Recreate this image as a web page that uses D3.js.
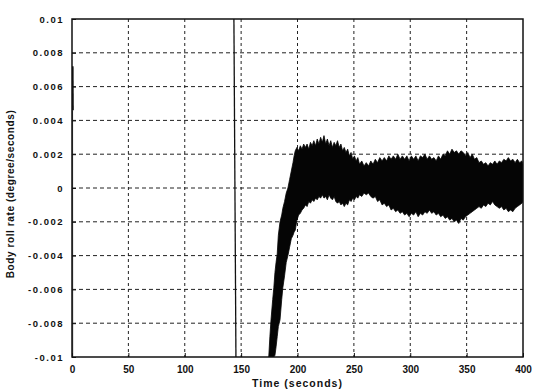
<!DOCTYPE html>
<html>
<head>
<meta charset="utf-8">
<script src="https://cdn.jsdelivr.net/npm/d3@7"></script>
<style>
  html, body { margin: 0; padding: 0; background: #fff; }
  text { font-family: "Liberation Sans", Arial, sans-serif; font-weight: bold; fill: #111; }
</style>
</head>
<body>
<div id="chart"></div>
<script>
// Axis ticks
const xTicks = [0, 50, 100, 150, 200, 250, 300, 350, 400];
const yTicks = [-0.01, -0.008, -0.006, -0.004, -0.002, 0, 0.002, 0.004, 0.006, 0.008, 0.01];
const yTickLabels = ["-0.01", "-0.008", "-0.006", "-0.004", "-0.002", "0", "0.002", "0.004", "0.006", "0.008", "0.01"];

// Envelope of the noisy roll-rate signal
const bandTime = [174.5, 175.5, 176.5, 178, 179, 180, 181, 182, 183, 184.5, 186, 187, 188.5, 190, 191.5, 193, 194.5, 196, 197, 198,
  199.5, 201, 202.5, 204, 205.5, 207, 208.5, 210, 211.5, 213, 214.5, 216, 217.5, 219, 220.5, 222, 223.5, 225, 226.5, 228,
  229.5, 231, 232.5, 234, 235.5, 237, 238.5, 240, 241.5, 243, 244.5, 246, 247.5, 249, 250.5, 252, 253.5, 255, 257, 259,
  261, 263, 265, 267, 269, 271, 273, 275, 277, 279, 281, 283, 285, 287, 289, 291, 293, 295, 297, 299,
  301, 303, 305, 307, 309, 311, 313, 315, 317, 319, 321, 323, 325, 327, 329, 331, 333, 335, 337, 339,
  341, 343, 345, 347, 349, 351, 353, 355, 357, 359, 361, 363, 365, 367, 369, 371, 373, 375, 377, 379,
  381, 383, 385, 387, 389, 391, 393, 395, 397, 399, 400];
const bandUpper = [-0.0100, -0.0088, -0.0078, -0.0066, -0.0059, -0.0050, -0.0044, -0.0039, -0.0028, -0.0020, -0.0016, -0.0012, -0.0008, -0.0003, 0.0000, 0.0005, 0.0010, 0.0015, 0.0019, 0.0022,
  0.0024, 0.0022, 0.0025, 0.0023, 0.0026, 0.0024, 0.0026, 0.0023, 0.0027, 0.0025, 0.0028, 0.0025, 0.0029, 0.0026, 0.0030, 0.0027, 0.0031, 0.0026, 0.0029, 0.0025,
  0.0028, 0.0024, 0.0027, 0.0025, 0.0028, 0.0024, 0.0026, 0.0022, 0.0024, 0.0021, 0.0023, 0.0019, 0.0021, 0.0017, 0.0019, 0.0016, 0.0018, 0.0014, 0.0016, 0.0013,
  0.0015, 0.0013, 0.0016, 0.0014, 0.0017, 0.0015, 0.0018, 0.0016, 0.0018, 0.0016, 0.0019, 0.0017, 0.0019, 0.0017, 0.0020, 0.0017, 0.0019, 0.0017, 0.0019, 0.0016,
  0.0019, 0.0017, 0.0019, 0.0016, 0.0019, 0.0018, 0.0020, 0.0017, 0.0019, 0.0017, 0.0018, 0.0016, 0.0019, 0.0017, 0.0020, 0.0019, 0.0022, 0.0020, 0.0023, 0.0021,
  0.0022, 0.0020, 0.0022, 0.0021, 0.0019, 0.0021, 0.0018, 0.0020, 0.0017, 0.0018, 0.0015, 0.0016, 0.0014, 0.0015, 0.0013, 0.0015, 0.0014, 0.0016, 0.0014, 0.0016,
  0.0015, 0.0017, 0.0016, 0.0018, 0.0016, 0.0017, 0.0015, 0.0017, 0.0015, 0.0016, 0.0014];
const bandLower = [-0.0100, -0.0100, -0.0100, -0.0100, -0.0100, -0.0099, -0.0094, -0.0088, -0.0082, -0.0078, -0.0066, -0.0059, -0.0052, -0.0044, -0.0040, -0.0035, -0.0030, -0.0028, -0.0026, -0.0025,
  -0.0019, -0.0016, -0.0015, -0.0013, -0.0012, -0.0010, -0.0011, -0.0008, -0.0009, -0.0007, -0.0008, -0.0006, -0.0007, -0.0005, -0.0006, -0.0004, -0.0006, -0.0005, -0.0007, -0.0004,
  -0.0006, -0.0007, -0.0005, -0.0008, -0.0009, -0.0008, -0.0010, -0.0009, -0.0011, -0.0009, -0.0010, -0.0007, -0.0008, -0.0006, -0.0007, -0.0005, -0.0006, -0.0004, -0.0005, -0.0003,
  -0.0004, -0.0003, -0.0005, -0.0006, -0.0005, -0.0008, -0.0007, -0.0010, -0.0009, -0.0011, -0.0010, -0.0013, -0.0012, -0.0014, -0.0013, -0.0015, -0.0014, -0.0016, -0.0015, -0.0017,
  -0.0015, -0.0016, -0.0014, -0.0017, -0.0015, -0.0016, -0.0014, -0.0015, -0.0013, -0.0015, -0.0014, -0.0016, -0.0015, -0.0017, -0.0016, -0.0018, -0.0017, -0.0019, -0.0018, -0.0020,
  -0.0019, -0.0021, -0.0018, -0.0019, -0.0017, -0.0016, -0.0015, -0.0014, -0.0013, -0.0012, -0.0011, -0.0012, -0.0010, -0.0011, -0.0009, -0.0010, -0.0008, -0.0010, -0.0011, -0.0012,
  -0.0011, -0.0013, -0.0012, -0.0014, -0.0013, -0.0014, -0.0012, -0.0011, -0.0010, -0.0009, -0.0008];

// Isolated traces: start-up transient at t=0 and the jump near t=145
const startTime = [0.3, 0.5, 0.6];
const startValue = [0.0072, 0.0046, -0.01];
const jumpTime = [143.6, 145.4];
const jumpValue = [0.01, -0.01];

const margin = { top: 19, right: 14, bottom: 32, left: 72 },
    width = 537 - margin.left - margin.right,
    height = 389 - margin.top - margin.bottom;

const svg = d3.select("#chart")
  .append("svg")
    .attr("width", 537)
    .attr("height", 389)
  .append("g")
    .attr("transform", `translate(${margin.left},${margin.top})`);

const x = d3.scaleLinear().domain([0, 400]).range([0, width]);
const y = d3.scaleLinear().domain([-0.01, 0.01]).range([height, 0]);

svg.append("clipPath").attr("id", "plot")
  .append("rect").attr("width", width).attr("height", height);

// Dashed grid
svg.selectAll(".vgrid")
  .data(xTicks.slice(1, -1))
  .join("line")
  .attr("x1", d => x(d)).attr("x2", d => x(d))
  .attr("y1", 0).attr("y2", height)
  .attr("stroke", "#222").attr("stroke-width", 1)
  .attr("stroke-dasharray", "3,3");

svg.selectAll(".hgrid")
  .data(yTicks.slice(1, -1))
  .join("line")
  .attr("x1", 0).attr("x2", width)
  .attr("y1", d => y(d)).attr("y2", d => y(d))
  .attr("stroke", "#222").attr("stroke-width", 1)
  .attr("stroke-dasharray", "4,3");

// Signal band
const band = bandTime.map((t, i) => ({ t, hi: bandUpper[i], lo: bandLower[i] }));
const plot = svg.append("g").attr("clip-path", "url(#plot)");

plot.append("path")
  .datum(band)
  .attr("d", d3.area().x(d => x(d.t)).y0(d => y(d.lo)).y1(d => y(d.hi)))
  .attr("fill", "#050505")
  .attr("stroke", "#050505")
  .attr("stroke-width", 0.8);

const line = d3.line().x(d => x(d[0])).y(d => y(d[1]));
plot.append("path")
  .datum(d3.zip(startTime, startValue).slice(0, 2))
  .attr("d", line)
  .attr("fill", "none").attr("stroke", "#111").attr("stroke-width", 2.5);
plot.append("path")
  .datum(d3.zip(startTime, startValue).slice(1))
  .attr("d", line)
  .attr("fill", "none").attr("stroke", "#444").attr("stroke-width", 1);
plot.append("path")
  .datum(d3.zip(jumpTime, jumpValue))
  .attr("d", line)
  .attr("fill", "none").attr("stroke", "#111").attr("stroke-width", 1.3);

// Axes box
svg.append("rect")
  .attr("width", width).attr("height", height)
  .attr("fill", "none").attr("stroke", "#111").attr("stroke-width", 1.5);

// Tick labels
svg.append("g")
  .attr("transform", `translate(0,${height})`)
  .call(d3.axisBottom(x).tickValues(xTicks).tickSize(-4).tickPadding(9).tickFormat(d3.format("d")))
  .call(g => g.select(".domain").remove())
  .call(g => g.selectAll("line").attr("stroke", "#111"))
  .selectAll("text")
    .style("font-size", "10px")
    .attr("fill", "#111");

svg.append("g")
  .call(d3.axisLeft(y).tickValues(yTicks).tickSize(-4).tickPadding(8).tickFormat((d, i) => yTickLabels[i]))
  .call(g => g.select(".domain").remove())
  .call(g => g.selectAll("line").attr("stroke", "#111"))
  .selectAll("text")
    .style("font-size", "9.5px")
    .style("letter-spacing", "1.5px")
    .attr("fill", "#111");

// Axis titles
svg.append("text")
  .attr("x", width / 2)
  .attr("y", height + 30)
  .attr("text-anchor", "middle")
  .style("font-size", "10.5px")
  .style("letter-spacing", "1px")
  .text("Time (seconds)");

svg.append("text")
  .attr("transform", `translate(${-58},${height / 2 + 6}) rotate(-90)`)
  .attr("text-anchor", "middle")
  .style("font-size", "10px")
  .style("letter-spacing", "0.6px")
  .text("Body roll rate (degree/seconds)");
</script>
</body>
</html>
